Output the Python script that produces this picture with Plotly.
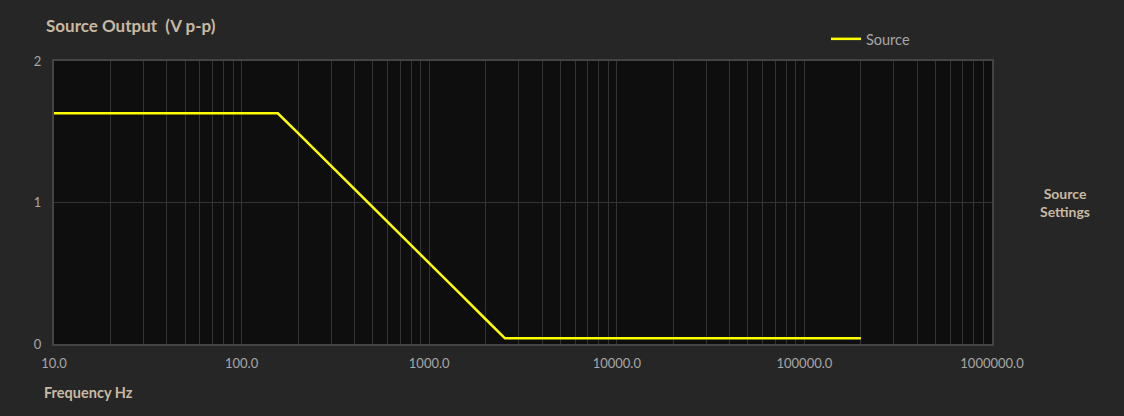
import plotly.graph_objects as go

# frequency (Hz) vs source output (V p-p)
freq = [10, 100, 156, 200, 300, 400, 500, 700, 1000, 1500, 2000, 2535, 10000, 100000, 200000]
vout = [1.63, 1.63, 1.63, 1.49, 1.26, 1.09, 0.965, 0.775, 0.57, 0.34, 0.175, 0.04, 0.04, 0.04, 0.04]

xtick_vals = [10, 100, 1000, 10000, 100000, 1000000]
xtick_text = ['10.0', '100.0', '1000.0', '10000.0', '100000.0', '1000000.0']
ytick_vals = [0, 1, 2]

minor_vals = [m * d for d in [10, 100, 1000, 10000, 100000] for m in range(2, 10)]

fig = go.Figure()
fig.add_trace(go.Scatter(
    x=freq, y=vout, name='Source', mode='lines',
    line=dict(color='#ffff00', width=2.5)
))

fig.update_layout(
    width=1124, height=416,
    paper_bgcolor='#262626', plot_bgcolor='#0e0e0e',
    margin=dict(l=54, r=132, t=61, b=72, autoexpand=False),
    font=dict(family='Lato, Open Sans, sans-serif', color='#a6a6a6', size=13),
    showlegend=True,
    legend=dict(x=0.823, y=1.078, xanchor='left', yanchor='middle',
                bgcolor='rgba(0,0,0,0)', font=dict(size=14.5, color='#a6a6a6'),
                itemwidth=30),
)

fig.update_xaxes(
    type='log', range=[1, 6],
    tickvals=xtick_vals, ticktext=xtick_text,
    showgrid=True, gridcolor='#333333', gridwidth=1,
    minor=dict(tickvals=minor_vals, showgrid=True, gridcolor='#333333', gridwidth=1, ticks=''),
    showline=True, linecolor='#444444', linewidth=2, mirror=True,
    zeroline=False, ticks='outside', ticklen=6, tickcolor='rgba(0,0,0,0)',
    tickfont=dict(size=13, color='#a6a6a6'),
)
fig.update_yaxes(
    range=[0, 2], tickvals=ytick_vals,
    showgrid=True, gridcolor='#333333', gridwidth=1,
    showline=True, linecolor='#444444', linewidth=2, mirror=True,
    zeroline=False, ticks='outside', ticklen=8, tickcolor='rgba(0,0,0,0)',
    tickfont=dict(size=13, color='#a6a6a6'),
)

fig.add_annotation(text='<b>Source Output  (V p-p)</b>', xref='paper', yref='paper',
                   x=-0.011, y=1.127, xanchor='left', yanchor='middle', showarrow=False,
                   font=dict(size=17, color='#c9b9a3'))
fig.add_annotation(text='<b>Frequency Hz</b>', xref='paper', yref='paper',
                   x=-0.013, y=-0.17, xanchor='left', yanchor='middle', showarrow=False,
                   font=dict(size=14.5, color='#c9b9a3'))
fig.add_annotation(text='<b>Source<br>Settings</b>', xref='paper', yref='paper',
                   x=1.078, y=0.5, xanchor='center', yanchor='middle', showarrow=False,
                   font=dict(size=14, color='#c9b9a3'), align='center')

fig.write_html("out.html", config={'displayModeBar': False},
               post_script="document.body.style.margin='0';")
